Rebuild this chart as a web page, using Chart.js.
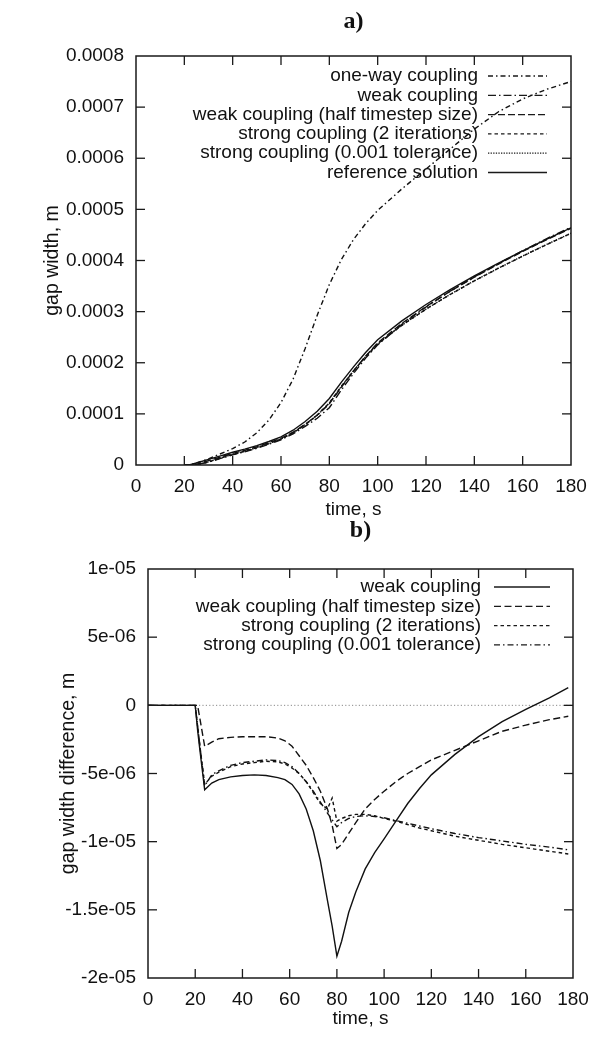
<!DOCTYPE html>
<html><head><meta charset="utf-8">
<script src="https://cdn.jsdelivr.net/npm/chart.js@4.4.0/dist/chart.umd.min.js"></script>
<style>
html,body{margin:0;padding:0;background:#fff;}
#wrap{position:relative;width:601px;height:1038px;overflow:hidden;background:#fff;}
#c1{position:absolute;left:0;top:0;}
#c2{position:absolute;left:0;top:516px;}
</style></head><body>
<div id="wrap"><canvas id="c1" width="601" height="532"></canvas><canvas id="c2" width="601" height="522"></canvas></div>
<script>
// ---------- data: chart a) gap width ----------
const TIME_A = [20,22,25,30,35,40,45,50,55,60,65,70,75,80,85,90,95,100,110,120,130,140,150,160,170,180];
const ONE_WAY_A = [0,0,0.000004,0.000012,0.000022,0.000032,0.000045,0.000063,0.000088,0.000122,0.000168,0.000228,0.000293,0.000353,0.000402,0.000441,0.000472,0.000498,0.00054,0.000579,0.000618,0.000657,0.000691,0.000716,0.000735,0.00075];
const WEAK_A = [0,0,0.000001,0.0000055,0.0000128,0.0000198,0.0000259,0.0000328,0.0000407,0.0000494,0.000061,0.0000755,0.0000915,0.000112,0.000147,0.000179,0.000209,0.000235,0.000275,0.000309,0.00034,0.000368,0.000394,0.000419,0.000443,0.000465];
const HALF_A = [0,0,0.0000012,0.0000086,0.0000156,0.0000227,0.0000287,0.0000357,0.0000436,0.0000522,0.0000641,0.0000796,0.0000977,0.0001195,0.0001525,0.0001841,0.0002128,0.0002387,0.000277,0.00031,0.0003397,0.0003674,0.0003931,0.0004176,0.000441,0.0004632];
const STRONG2_A = [0,0,0,0.0000061,0.0000135,0.0000207,0.0000268,0.0000339,0.0000419,0.0000507,0.000063,0.0000786,0.0000978,0.0001216,0.000154,0.000184,0.0002119,0.0002367,0.0002732,0.0003048,0.0003335,0.0003602,0.0003849,0.0004086,0.0004313,0.0004531];
const STRONGTOL_A = [0,0,0,0.0000062,0.0000136,0.0000208,0.0000269,0.000034,0.000042,0.0000507,0.000063,0.0000787,0.0000974,0.0001211,0.0001537,0.0001839,0.0002119,0.0002368,0.0002734,0.000305,0.0003337,0.0003604,0.0003851,0.0004088,0.0004316,0.0004534];
const REF_A = [0,0,0.000004,0.000011,0.000018,0.000025,0.000031,0.000038,0.000046,0.000055,0.000068,0.000085,0.000105,0.00013,0.000162,0.000192,0.00022,0.000245,0.000282,0.000314,0.000343,0.00037,0.000395,0.000419,0.000442,0.000464];
const Y_LABELS_A = ['0','0.0001','0.0002','0.0003','0.0004','0.0005','0.0006','0.0007','0.0008'];

// ---------- data: chart b) gap width difference ----------
const TIME_B = [0,20,21,22,24,27,30,35,40,45,50,55,58,61,64,67,70,73,76,78,80,82,85,88,92,96,100,105,110,115,120,130,140,150,160,170,178];
const WEAK_B = [0,0,-1.8e-6,-3.3e-6,-6.2e-6,-5.7e-6,-5.45e-6,-5.25e-6,-5.15e-6,-5.1e-6,-5.15e-6,-5.3e-6,-5.45e-6,-5.8e-6,-6.5e-6,-7.6e-6,-9.2e-6,-11.4e-6,-14.3e-6,-16.2e-6,-18.4e-6,-17.3e-6,-15.2e-6,-13.7e-6,-12.0e-6,-10.8e-6,-9.8e-6,-8.5e-6,-7.2e-6,-6.1e-6,-5.1e-6,-3.6e-6,-2.3e-6,-1.2e-6,-0.3e-6,0.55e-6,1.3e-6];
const HALF_B = [0,0,0,-1.0e-6,-3.0e-6,-2.7e-6,-2.45e-6,-2.35e-6,-2.3e-6,-2.3e-6,-2.3e-6,-2.4e-6,-2.6e-6,-3.0e-6,-3.7e-6,-4.4e-6,-5.3e-6,-6.3e-6,-7.6e-6,-8.8e-6,-10.5e-6,-10.2e-6,-9.4e-6,-8.6e-6,-7.6e-6,-6.9e-6,-6.3e-6,-5.6e-6,-5.0e-6,-4.5e-6,-4.0e-6,-3.3e-6,-2.6e-6,-1.9e-6,-1.45e-6,-1.05e-6,-0.8e-6];
const STRONG2_B = [0,0,-1.5e-6,-3.0e-6,-5.8e-6,-5.2e-6,-4.9e-6,-4.5e-6,-4.3e-6,-4.2e-6,-4.1e-6,-4.15e-6,-4.3e-6,-4.6e-6,-5.0e-6,-5.6e-6,-6.4e-6,-7.2e-6,-7.6e-6,-6.8e-6,-8.5e-6,-8.3e-6,-8.1e-6,-8.0e-6,-8.0e-6,-8.1e-6,-8.3e-6,-8.5e-6,-8.75e-6,-9.0e-6,-9.2e-6,-9.6e-6,-9.9e-6,-10.2e-6,-10.45e-6,-10.7e-6,-10.9e-6];
const STRONGTOL_B = [0,0,-1.5e-6,-3.0e-6,-5.9e-6,-5.1e-6,-4.8e-6,-4.4e-6,-4.2e-6,-4.1e-6,-4.0e-6,-4.05e-6,-4.2e-6,-4.5e-6,-5.0e-6,-5.6e-6,-6.3e-6,-7.1e-6,-7.9e-6,-8.4e-6,-8.9e-6,-8.6e-6,-8.3e-6,-8.15e-6,-8.1e-6,-8.15e-6,-8.25e-6,-8.45e-6,-8.65e-6,-8.85e-6,-9.05e-6,-9.4e-6,-9.7e-6,-9.95e-6,-10.2e-6,-10.4e-6,-10.6e-6];
const Y_LABELS_B = ['-2e-05','-1.5e-05','-1e-05','-5e-06','0','5e-06','1e-05'];

// ---------- styling ----------
const SANS = '"Liberation Sans", Arial, Helvetica, sans-serif';
const SERIF = '"Liberation Serif", "Times New Roman", serif';
const INK = '#111';
Chart.defaults.font.family = SANS;
Chart.defaults.color = INK;

function pts(t, v){ return t.map((x,i)=>({x:x, y:v[i]})); }
function ds(label, t, v, dash){
  return {label, data: pts(t,v), borderColor: INK, borderWidth: 1.4, borderDash: dash,
          pointRadius: 0, tension: 0, fill: false};
}

const framePlugin = {
  id: 'frame',
  beforeDatasetsDraw(chart, args, o){
    if (!o.zero) return;
    const {ctx, chartArea:a, scales:{y}} = chart;
    const py = y.getPixelForValue(0);
    ctx.save(); ctx.strokeStyle = '#8a8a8a'; ctx.lineWidth = 1; ctx.setLineDash([1.2,2.2]);
    ctx.beginPath(); ctx.moveTo(a.left, py); ctx.lineTo(a.right, py); ctx.stroke(); ctx.restore();
  },
  afterDatasetsDraw(chart, args, o){
    const {ctx, chartArea:a, scales:{x,y}} = chart;
    ctx.save();
    ctx.strokeStyle = '#1a1a1a'; ctx.setLineDash([]);
    ctx.lineWidth = 1.5;
    ctx.strokeRect(a.left, a.top, a.right-a.left, a.bottom-a.top);
    ctx.lineWidth = 1.3;
    const L = 9;
    const seg=(x1,y1,x2,y2)=>{ctx.beginPath();ctx.moveTo(x1,y1);ctx.lineTo(x2,y2);ctx.stroke();};
    x.ticks.forEach(t=>{const p=x.getPixelForValue(t.value); if(p<a.left+2||p>a.right-2) return; seg(p,a.bottom,p,a.bottom-L); seg(p,a.top,p,a.top+L);});
    y.ticks.forEach(t=>{const p=y.getPixelForValue(t.value); if(p<a.top+2||p>a.bottom-2) return; seg(a.left,p,a.left+L,p); seg(a.right,p,a.right-L,p);});
    // gnuplot-style key
    ctx.font = '19px ' + SANS; ctx.fillStyle = INK; ctx.textAlign = 'right'; ctx.textBaseline = 'middle';
    chart.data.datasets.forEach((d,i)=>{
      const yy = o.keyY + i*o.keyStep;
      ctx.fillText(d.label, o.textRight, yy);
      ctx.setLineDash(d.borderDash || []); ctx.lineWidth = 1.3;
      seg(o.sx1, yy, o.sx2, yy);
    });
    ctx.restore();
  }
};

function makeChart(id, cfg){
  return new Chart(document.getElementById(id), {
    type: 'line',
    data: { datasets: cfg.datasets },
    options: {
      responsive: false, animation: false, events: [],
      layout: { padding: { left: 0, right: cfg.padRight, top: 0, bottom: 0 } },
      plugins: {
        legend: { display: false }, tooltip: { enabled: false },
        title: { display: true, text: cfg.title, color: INK, fullSize: false,
                 font: { family: SERIF, size: 24, weight: 'bold', lineHeight: 1.2 },
                 padding: { top: cfg.titleTop, bottom: cfg.titleBottom } },
        frame: cfg.frame
      },
      scales: {
        x: { type: 'linear', min: 0, max: 180,
             afterFit: s => { s.height = cfg.xHeight; },
             grid: { display: false, drawTicks: false }, border: { display: false },
             ticks: { stepSize: 20, padding: 10, font: { size: 19 }, color: INK, maxRotation: 0 },
             title: { display: true, text: 'time, s', color: INK, font: { size: 19 }, padding: { top: 0, bottom: cfg.xTitlePad } } },
        y: { type: 'linear', min: cfg.yMin, max: cfg.yMax,
             afterFit: s => { s.width = cfg.yWidth; },
             grid: { display: false, drawTicks: false }, border: { display: false },
             ticks: { stepSize: cfg.yStep, padding: 12, font: { size: 19 }, color: INK,
                      callback: (v, i) => cfg.yLabels[i] },
             title: { display: true, text: cfg.yTitle, color: INK, font: { size: 19.5 }, padding: { top: cfg.yTitlePad, bottom: 0 } } }
      }
    },
    plugins: [framePlugin]
  });
}

makeChart('c1', {
  title: 'a)', titleTop: 7, titleBottom: 20.2, padRight: 30, xHeight: 67, xTitlePad: 11,
  yWidth: 136, yTitlePad: 40.6, yTitle: 'gap width, m',
  yMin: 0, yMax: 0.0008, yStep: 0.0001, yLabels: Y_LABELS_A,
  frame: { zero: false, keyY: 76, keyStep: 19.3, textRight: 478, sx1: 488, sx2: 547 },
  datasets: [
    ds('one-way coupling', TIME_A, ONE_WAY_A, [5,3,1.5,3]),
    ds('weak coupling', TIME_A, WEAK_A, [8,3,1.5,3]),
    ds('weak coupling (half timestep size)', TIME_A, HALF_A, [7,3]),
    ds('strong coupling (2 iterations)', TIME_A, STRONG2_A, [3.5,3]),
    ds('strong coupling (0.001 tolerance)', TIME_A, STRONGTOL_A, [1.3,1.3]),
    ds('reference solution', TIME_A, REF_A, [])
  ]
});

makeChart('c2', {
  title: 'b)', titleTop: 0, titleBottom: 24.2, padRight: 28, xHeight: 60, xTitlePad: 8,
  yWidth: 148, yTitlePad: 56.6, yTitle: 'gap width difference, m',
  yMin: -2e-5, yMax: 1e-5, yStep: 5e-6, yLabels: Y_LABELS_B,
  frame: { zero: true, keyY: 71, keyStep: 19.3, textRight: 481, sx1: 494, sx2: 550 },
  datasets: [
    ds('weak coupling', TIME_B, WEAK_B, []),
    ds('weak coupling (half timestep size)', TIME_B, HALF_B, [7,3.5]),
    ds('strong coupling (2 iterations)', TIME_B, STRONG2_B, [3.5,3]),
    ds('strong coupling (0.001 tolerance)', TIME_B, STRONGTOL_B, [6,3,1.5,3])
  ]
});
</script>
</body></html>
